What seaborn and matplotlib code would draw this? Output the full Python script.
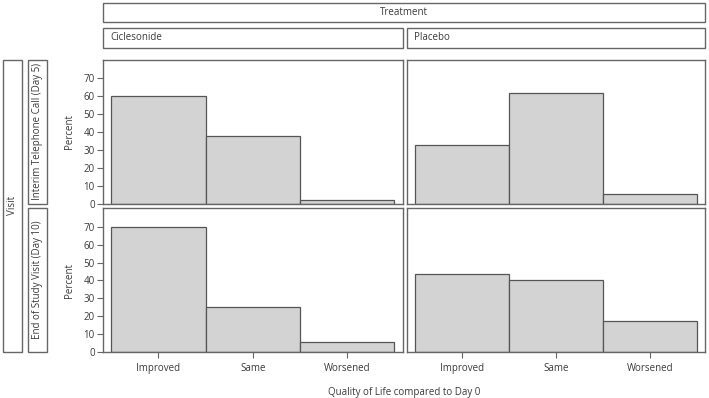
import matplotlib
matplotlib.use("Agg")
import matplotlib.pyplot as plt
import seaborn as sns
import pandas as pd
from matplotlib.patches import Rectangle

# ---- data ----
categories = ["Improved", "Same", "Worsened"]
treatments = ["Ciclesonide", "Placebo"]
visits = ["Interim Telephone Call (Day 5)", "End of Study Visit (Day 10)"]
cic_day5 = [60.1, 37.7, 1.9]
pla_day5 = [32.7, 61.8, 5.3]
cic_day10 = [70.0, 25.2, 5.8]
pla_day10 = [43.8, 40.1, 17.4]
y_ticks = [0, 10, 20, 30, 40, 50, 60, 70]

rows = []
for visit, trt, vals in [(visits[0], treatments[0], cic_day5),
                         (visits[0], treatments[1], pla_day5),
                         (visits[1], treatments[0], cic_day10),
                         (visits[1], treatments[1], pla_day10)]:
    for c, v in zip(categories, vals):
        rows.append({"Visit": visit, "Treatment": trt, "QoL": c, "Percent": v})
df = pd.DataFrame(rows)

sns.set_theme(style="white")
plt.rcParams["font.family"] = ["Open Sans", "DejaVu Sans"]
TXT = "#3a3a3a"
EDGE = "#666666"
FS = 7

W, H = 709, 398
fig = plt.figure(figsize=(W / 100, H / 100), dpi=100)

def fx(px):
    return px / W

def fy(py):
    return 1 - py / H

col_x = [(103, 402.5), (407, 705)]
row_y = [(59.5, 203.5), (208, 352)]

for r, visit in enumerate(visits):
    for c, trt in enumerate(treatments):
        x0, x1 = col_x[c]
        y0, y1 = row_y[r]
        ax = fig.add_axes([fx(x0), fy(y1), fx(x1) - fx(x0), fy(y0) - fy(y1)])
        sub = df[(df.Visit == visit) & (df.Treatment == trt)]
        sns.barplot(data=sub, x="QoL", y="Percent", order=categories, ax=ax,
                    width=1.0, color="#d3d3d3", saturation=1,
                    edgecolor="#555555", linewidth=0.9, errorbar=None)
        ax.set_xlim(-0.585, 2.585)
        ax.set_ylim(0, 80.5)
        for s in ax.spines.values():
            s.set_visible(True)
            s.set_color(EDGE)
            s.set_linewidth(1.0)
        ax.set_xlabel("")
        if c == 0:
            ax.set_yticks(y_ticks)
            ax.set_ylabel("Percent", fontsize=FS, color=TXT, labelpad=6)
            ax.tick_params(axis="y", left=True, length=4, width=0.8,
                           color=EDGE, labelsize=FS, labelcolor=TXT, pad=2)
        else:
            ax.set_ylabel("")
            ax.set_yticks([])
        if r == 1:
            ax.tick_params(axis="x", bottom=True, length=4, width=0.8,
                           color=EDGE, labelsize=FS, labelcolor=TXT, pad=4)
        else:
            ax.set_xticks([])

def box(x0, y0, x1, y1):
    fig.add_artist(Rectangle((fx(x0), fy(y1)), fx(x1) - fx(x0), fy(y0) - fy(y1),
                             transform=fig.transFigure, facecolor="white",
                             edgecolor=EDGE, linewidth=1.0))

# column strips
box(103, 3, 705, 22)
fig.text(fx(404), fy(12.5), "Treatment", ha="center", va="center", fontsize=FS, color=TXT)
box(103, 28, 402.5, 48)
fig.text(fx(110), fy(38), treatments[0], ha="left", va="center", fontsize=FS, color=TXT)
box(407, 28, 705, 48)
fig.text(fx(414), fy(38), treatments[1], ha="left", va="center", fontsize=FS, color=TXT)

# row strips
box(3, 59.5, 22, 352)
fig.text(fx(12.5), fy(205.5), "Visit", ha="center", va="center", rotation=90, fontsize=FS, color=TXT)
box(28, 59.5, 47, 203.5)
fig.text(fx(37.5), fy(131.5), visits[0], ha="center", va="center", rotation=90, fontsize=FS, color=TXT)
box(28, 208, 47, 352)
fig.text(fx(37.5), fy(280), visits[1], ha="center", va="center", rotation=90, fontsize=FS, color=TXT)

fig.text(fx(404), fy(392), "Quality of Life compared to Day 0", ha="center", va="center",
         fontsize=FS, color=TXT)

fig.savefig("out.png", dpi=100, facecolor="white")
